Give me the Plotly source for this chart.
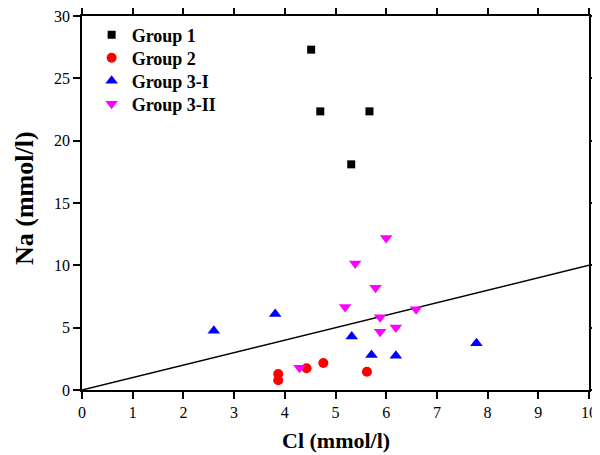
import plotly.graph_objects as go

g1_x = [4.52, 4.70, 5.67, 5.31]
g1_y = [27.3, 22.35, 22.35, 18.1]
g2_x = [3.87, 3.87, 4.43, 4.76, 5.62]
g2_y = [1.28, 0.78, 1.74, 2.17, 1.47]
g3i_x = [2.60, 3.81, 5.32, 5.71, 6.19, 7.78]
g3i_y = [4.75, 6.1, 4.3, 2.8, 2.75, 3.75]
g3ii_x = [6.0, 5.39, 5.79, 5.19, 6.59, 5.88, 6.19, 5.88, 4.29]
g3ii_y = [12.2, 10.15, 8.2, 6.65, 6.47, 5.83, 5.02, 4.68, 1.79]
line_x = [0, 10]
line_y = [0, 10]

fig = go.Figure()
fig.add_trace(go.Scatter(x=line_x, y=line_y, mode="lines", line=dict(color="black", width=1.5),
                         showlegend=False, hoverinfo="skip"))
fig.add_trace(go.Scatter(x=g1_x, y=g1_y, mode="markers", name="<b>Group 1</b>", legend="legend",
                         marker=dict(symbol="square", size=8, color="black")))
fig.add_trace(go.Scatter(x=g2_x, y=g2_y, mode="markers", name="<b>Group 2</b>", legend="legend2",
                         marker=dict(symbol="circle", size=10, color="red")))
fig.add_trace(go.Scatter(x=g3i_x, y=g3i_y, mode="markers", name="<b>Group 3-I</b>", legend="legend3",
                         marker=dict(symbol="triangle-up", size=11, color="blue")))
fig.add_trace(go.Scatter(x=g3ii_x, y=g3ii_y, mode="markers", name="<b>Group 3-II</b>", legend="legend4",
                         marker=dict(symbol="triangle-down", size=11, color="magenta")))

axis_common = dict(showgrid=False, zeroline=False, showline=True, linecolor="black", linewidth=1.5,
                   mirror="allticks", ticks="outside", ticklen=7, tickwidth=1.5, tickcolor="black",
                   automargin=False, ticklabeloverflow="allow",
                   tickfont=dict(family="Liberation Serif", size=16, color="black"))

def leg(row_px):
    return dict(x=0.019, y=(390 - row_px) / 374, xanchor="left", yanchor="middle",
                bgcolor="rgba(0,0,0,0)",
                font=dict(family="Liberation Serif", size=18, color="black"))

# page body has an 8px default margin, so the figure is 8px smaller than the window
fig.update_layout(
    width=592, height=447,
    margin=dict(l=74, r=11, t=8, b=65),
    paper_bgcolor="white", plot_bgcolor="white",
    xaxis=dict(range=[0, 10], dtick=1, **axis_common),
    yaxis=dict(range=[0, 30], dtick=5, **axis_common),
    legend=leg(35), legend2=leg(58), legend3=leg(81), legend4=leg(104),
    showlegend=True,
    annotations=[
        dict(text="<b>Cl (mmol/l)</b>", xref="paper", yref="paper", x=0.5, y=(390 - 441) / 374,
             xanchor="center", yanchor="middle", showarrow=False,
             font=dict(family="Liberation Serif", size=22, color="black")),
        dict(text="<b>Na (mmol/l)</b>", xref="paper", yref="paper", x=(25 - 82) / 507, y=(390 - 198) / 374,
             xanchor="center", yanchor="middle", showarrow=False, textangle=-90,
             font=dict(family="Liberation Serif", size=26, color="black")),
    ],
)

fig.write_html("out.html")
